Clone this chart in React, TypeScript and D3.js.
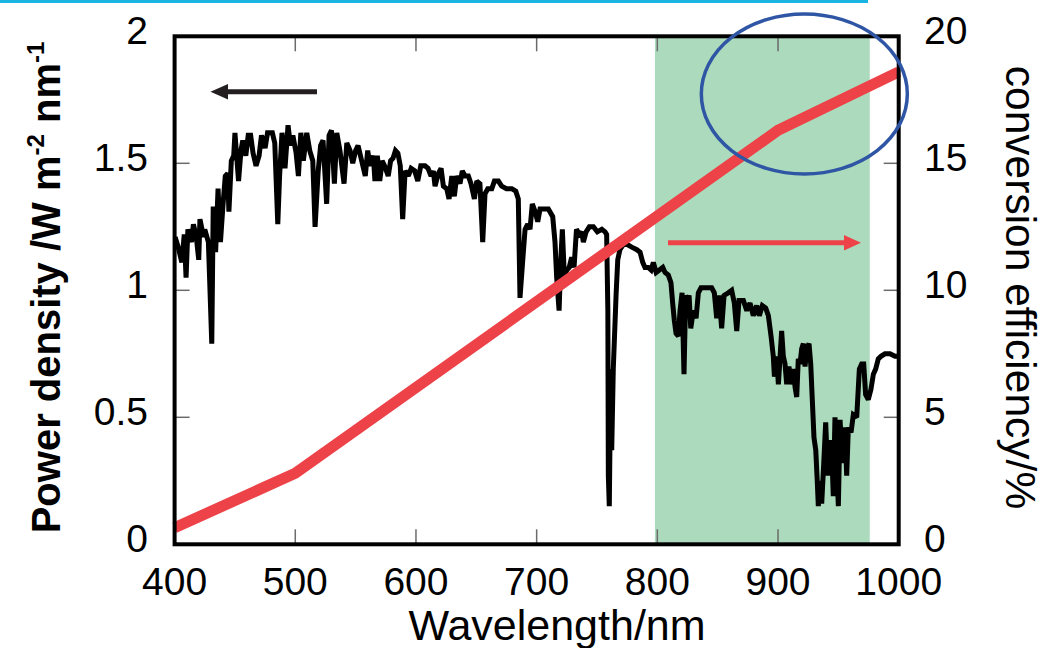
import React from "react";
import * as d3 from "d3";

// ---------- data ----------
const wavelengths: number[] = [
  400.4, 403, 406, 408, 409.5, 411, 414, 415.6, 418, 420, 421, 424, 425, 428, 430.8, 432, 434, 436, 438, 440,
  442, 444, 445, 447, 449, 450, 453, 455, 456.5, 459, 461, 463, 465, 467.5, 470, 472, 475, 477, 479, 481,
  483, 485.5, 487, 489, 491.5, 494, 496, 498, 500.7, 502.6, 504.6, 506.7, 509.5, 512, 514.5, 516.4, 519, 521, 523, 526,
  528, 530, 532.4, 534.4, 537, 540.4, 542.7, 545.4, 547.6, 550, 552, 555, 558, 560, 562, 564.7, 566, 568, 570, 572,
  574, 577, 579, 581, 583, 585, 587, 589, 591, 593.7, 596, 599, 601.5, 604, 607.5, 610, 612.5, 614.4, 615.8, 618.6,
  620.8, 622.7, 625.5, 627.4, 629.7, 631.8, 633.8, 636.5, 638.4, 640.7, 643.4, 645.6, 648.4, 650.4, 653, 655.3, 657.2, 659.5, 662.8, 665,
  668.3, 671, 675, 679.4, 682.7, 684.8, 686.2, 688.5, 690.4, 692.6, 694.5, 696.4, 698.7, 700.9, 702.8, 705.5, 709.7, 713.3, 715.2, 716.6,
  718.6, 720, 721.3, 723, 725, 727, 729, 731, 733, 735.4, 737.4, 738.7, 741, 743.7, 747, 750.3, 754, 756.7, 758, 759,
  759.4, 760.2, 761.4, 762.2, 763.5, 765.8, 767.2, 769, 771.8, 775.1, 778.8, 783, 785.7, 787.9, 789.8, 792.5, 794.8, 796.7, 799, 801.7,
  804.5, 806.4, 809.1, 811.3, 812.7, 814.1, 815.5, 817.4, 818.8, 820.5, 822.1, 823.5, 824.9, 826.3, 827.7, 829.8, 832.1, 834, 836.2, 839,
  842.3, 845, 847.2, 849.2, 851.1, 853.3, 855.3, 858.8, 861.6, 863.8, 865.8, 867.7, 871.3, 874.1, 876.8, 879.5, 882.3, 884.5, 887, 889.8,
  892, 894.2, 896.1, 897, 898.9, 900.3, 901.6, 903, 904.4, 905.8, 907.2, 909.1, 910.8, 912.7, 914.1, 915.5, 916.8, 918.2, 919.6, 921,
  922.4, 923.8, 925.7, 927.1, 928.4, 929.8, 931.3, 932.6, 933.4, 934.8, 936.2, 937.9, 939.5, 941.2, 942.8, 944.5, 945.8, 947.2, 948.9, 950,
  951.4, 952.8, 954.1, 955.5, 956.9, 958.3, 960.5, 962.4, 965.2, 967.4, 969.3, 971, 972.6, 974.8, 977, 979, 980.9, 983.1, 985.3, 988.6,
  992.8, 996.9, 1000,
];

const powerDensity: number[] = [
  1.21, 1.17, 1.11, 1.22, 1.05, 1.24, 1.19, 1.26, 1.21, 1.12, 1.28, 1.21, 1.24, 1.19, 0.79, 1.33, 1.15, 1.40, 1.19, 1.33,
  1.45, 1.46, 1.31, 1.51, 1.53, 1.62, 1.43, 1.55, 1.59, 1.53, 1.61, 1.61, 1.54, 1.49, 1.53, 1.61, 1.56, 1.62, 1.62, 1.62,
  1.58, 1.26, 1.45, 1.62, 1.48, 1.65, 1.57, 1.61, 1.54, 1.45, 1.62, 1.51, 1.62, 1.55, 1.51, 1.25, 1.47, 1.57, 1.59, 1.34,
  1.61, 1.63, 1.42, 1.62, 1.55, 1.42, 1.58, 1.55, 1.50, 1.55, 1.57, 1.51, 1.45, 1.55, 1.49, 1.53, 1.43, 1.53, 1.43, 1.51,
  1.49, 1.45, 1.51, 1.52, 1.55, 1.54, 1.49, 1.28, 1.47, 1.45, 1.48, 1.47, 1.43, 1.49, 1.49, 1.48, 1.45, 1.47, 1.41, 1.46,
  1.48, 1.41, 1.40, 1.36, 1.45, 1.37, 1.45, 1.42, 1.47, 1.45, 1.45, 1.42, 1.36, 1.43, 1.42, 1.19, 1.38, 1.40, 1.40, 1.43,
  1.43, 1.41, 1.40, 1.40, 1.39, 1.36, 0.97, 1.12, 1.24, 1.26, 1.24, 1.34, 1.31, 1.27, 1.32, 1.32, 1.32, 1.29, 1.19, 1.05,
  0.92, 1.12, 1.24, 1.05, 1.08, 1.09, 1.13, 1.09, 1.24, 1.22, 1.23, 1.19, 1.23, 1.25, 1.25, 1.23, 1.24, 1.23, 1.22, 0.92,
  0.27, 0.15, 0.69, 0.37, 0.69, 0.98, 1.12, 1.16, 1.18, 1.18, 1.17, 1.16, 1.15, 1.11, 1.09, 1.09, 1.08, 1.11, 1.07, 1.08,
  1.09, 1.07, 1.06, 1.03, 0.95, 0.88, 0.83, 0.82, 0.92, 0.99, 0.67, 0.98, 0.95, 0.98, 0.85, 0.92, 0.89, 0.99, 1.01, 1.01,
  1.01, 1.01, 0.99, 0.89, 0.98, 0.85, 0.98, 0.99, 1.00, 0.95, 0.84, 0.96, 0.96, 0.92, 0.95, 0.90, 0.94, 0.90, 0.94, 0.93,
  0.90, 0.82, 0.74, 0.66, 0.74, 0.63, 0.73, 0.84, 0.74, 0.71, 0.63, 0.70, 0.63, 0.69, 0.62, 0.58, 0.73, 0.71, 0.77, 0.79,
  0.70, 0.77, 0.79, 0.71, 0.57, 0.42, 0.37, 0.24, 0.15, 0.25, 0.16, 0.32, 0.48, 0.27, 0.41, 0.37, 0.19, 0.50, 0.27, 0.15,
  0.49, 0.37, 0.32, 0.46, 0.27, 0.46, 0.44, 0.51, 0.50, 0.69, 0.71, 0.71, 0.59, 0.57, 0.61, 0.67, 0.69, 0.73, 0.74, 0.75,
  0.75, 0.74, 0.74,
];

const effWavelengths: number[] = [400, 500, 900, 1000];
const effValues: number[] = [0.65, 2.8, 16.3, 18.6];

const xTicks: number[] = [400, 500, 600, 700, 800, 900, 1000];
const leftTicks: number[] = [0, 0.5, 1, 1.5, 2];
const leftTickLabels: string[] = ["0", "0.5", "1", "1.5", "2"];
const rightTicks: number[] = [0, 5, 10, 15, 20];

const bandRange: [number, number] = [798, 976];
const highlightCenter: [number, number] = [921.8, 17.73]; // (wavelength, efficiency)

const xTitle = "Wavelength/nm";
const rightTitle = "conversion efficiency/%";

// ---------- layout ----------
const W = 1043;
const H = 648;
const L = 174.6;
const R = 898.7;
const T = 36.3;
const B = 544.3;

const FONT = "'Liberation Sans', Arial, Helvetica, sans-serif";
const RED = "#ee4249";
const GREEN = "#acdabc";
const BLUE = "#2f56a5";

export default function App() {
  const x = d3.scaleLinear().domain([400, 1000]).range([L, R]);
  const yL = d3.scaleLinear().domain([0, 2]).range([B, T]);
  const yR = d3.scaleLinear().domain([0, 20]).range([B, T]);

  const spec = wavelengths.map((w, i) => [w, powerDensity[i]] as [number, number]);
  const specLine = d3
    .line<[number, number]>()
    .x((d) => x(d[0]))
    .y((d) => yL(d[1]))(spec);

  const eff = effWavelengths.map((w, i) => [w, effValues[i]] as [number, number]);
  const effLine = d3
    .line<[number, number]>()
    .x((d) => x(d[0]))
    .y((d) => yR(d[1]))(eff);

  const tickLen = 15;
  const tickColor = "#6b6b6b";

  return (
    <svg
      width={W}
      height={H}
      viewBox={`0 0 ${W} ${H}`}
      style={{ position: "absolute", left: 0, top: 0, display: "block", background: "#fff" }}
    >
      {/* top cyan rule */}
      <rect x={0} y={0} width={868} height={3} fill="#19b4e1" />

      {/* green band */}
      <rect
        x={x(bandRange[0])}
        y={T}
        width={x(bandRange[1]) - x(bandRange[0])}
        height={B - T}
        fill={GREEN}
      />

      {/* ticks */}
      <g stroke={tickColor} strokeWidth={1.5}>
        {xTicks.slice(1, -1).map((t) => (
          <g key={"xt" + t}>
            <line x1={x(t)} x2={x(t)} y1={T} y2={T + tickLen} />
            <line x1={x(t)} x2={x(t)} y1={B} y2={B - tickLen} />
          </g>
        ))}
        {leftTicks.slice(1, -1).map((t) => (
          <line key={"lt" + t} x1={L} x2={L + tickLen} y1={yL(t)} y2={yL(t)} />
        ))}
        {rightTicks.slice(1, -1).map((t) => (
          <line key={"rt" + t} x1={R} x2={R - tickLen} y1={yR(t)} y2={yR(t)} />
        ))}
      </g>

      {/* spectrum */}
      <path d={specLine ?? ""} fill="none" stroke="#000" strokeWidth={5} strokeLinejoin="miter" strokeMiterlimit={2} />

      {/* efficiency */}
      <path d={effLine ?? ""} fill="none" stroke={RED} strokeWidth={11} strokeLinejoin="miter" />

      {/* frame */}
      <rect x={L} y={T} width={R - L} height={B - T} fill="none" stroke="#000" strokeWidth={4} />

      {/* highlight ellipse */}
      <ellipse
        cx={x(highlightCenter[0])}
        cy={yR(highlightCenter[1])}
        rx={103}
        ry={80}
        fill="none"
        stroke={BLUE}
        strokeWidth={3.5}
      />

      {/* arrows */}
      <g>
        <line x1={317} x2={224} y1={91.7} y2={91.7} stroke="#231f20" strokeWidth={5} />
        <path d="M210.5,91.7 L228,84 L228,99.4 Z" fill="#231f20" />
        <line x1={668} x2={846} y1={242.7} y2={242.7} stroke={RED} strokeWidth={5} />
        <path d="M861,242.7 L844,235 L844,250.4 Z" fill={RED} />
      </g>

      {/* tick labels */}
      <g fontFamily={FONT} fontSize={39} fill="#000">
        {leftTicks.map((t, i) => (
          <text key={"ll" + t} x={148} y={yL(t) + 7.5} textAnchor="end">
            {leftTickLabels[i]}
          </text>
        ))}
        {rightTicks.map((t) => (
          <text key={"rl" + t} x={924} y={yR(t) + 7.5} textAnchor="start">
            {t}
          </text>
        ))}
        {xTicks.map((t) => (
          <text key={"bl" + t} x={x(t)} y={595} textAnchor="middle">
            {t}
          </text>
        ))}
      </g>

      {/* axis titles */}
      <text x={557} y={640} fontFamily={FONT} fontSize={43} textAnchor="middle" fill="#000">
        {xTitle}
      </text>
      <text
        transform={`translate(1006, 287.5) rotate(90)`}
        fontFamily={FONT}
        fontSize={42.5}
        textAnchor="middle"
        fill="#000"
      >
        {rightTitle}
      </text>
      <text
        transform={`translate(60, 287.5) rotate(-90)`}
        fontFamily={FONT}
        fontSize={40}
        fontWeight="bold"
        textAnchor="middle"
        fill="#000"
      >
        Power density /W m
        <tspan fontSize={24} dy={-16}>-2</tspan>
        <tspan dy={16}> nm</tspan>
        <tspan fontSize={24} dy={-16}>-1</tspan>
      </text>
    </svg>
  );
}
